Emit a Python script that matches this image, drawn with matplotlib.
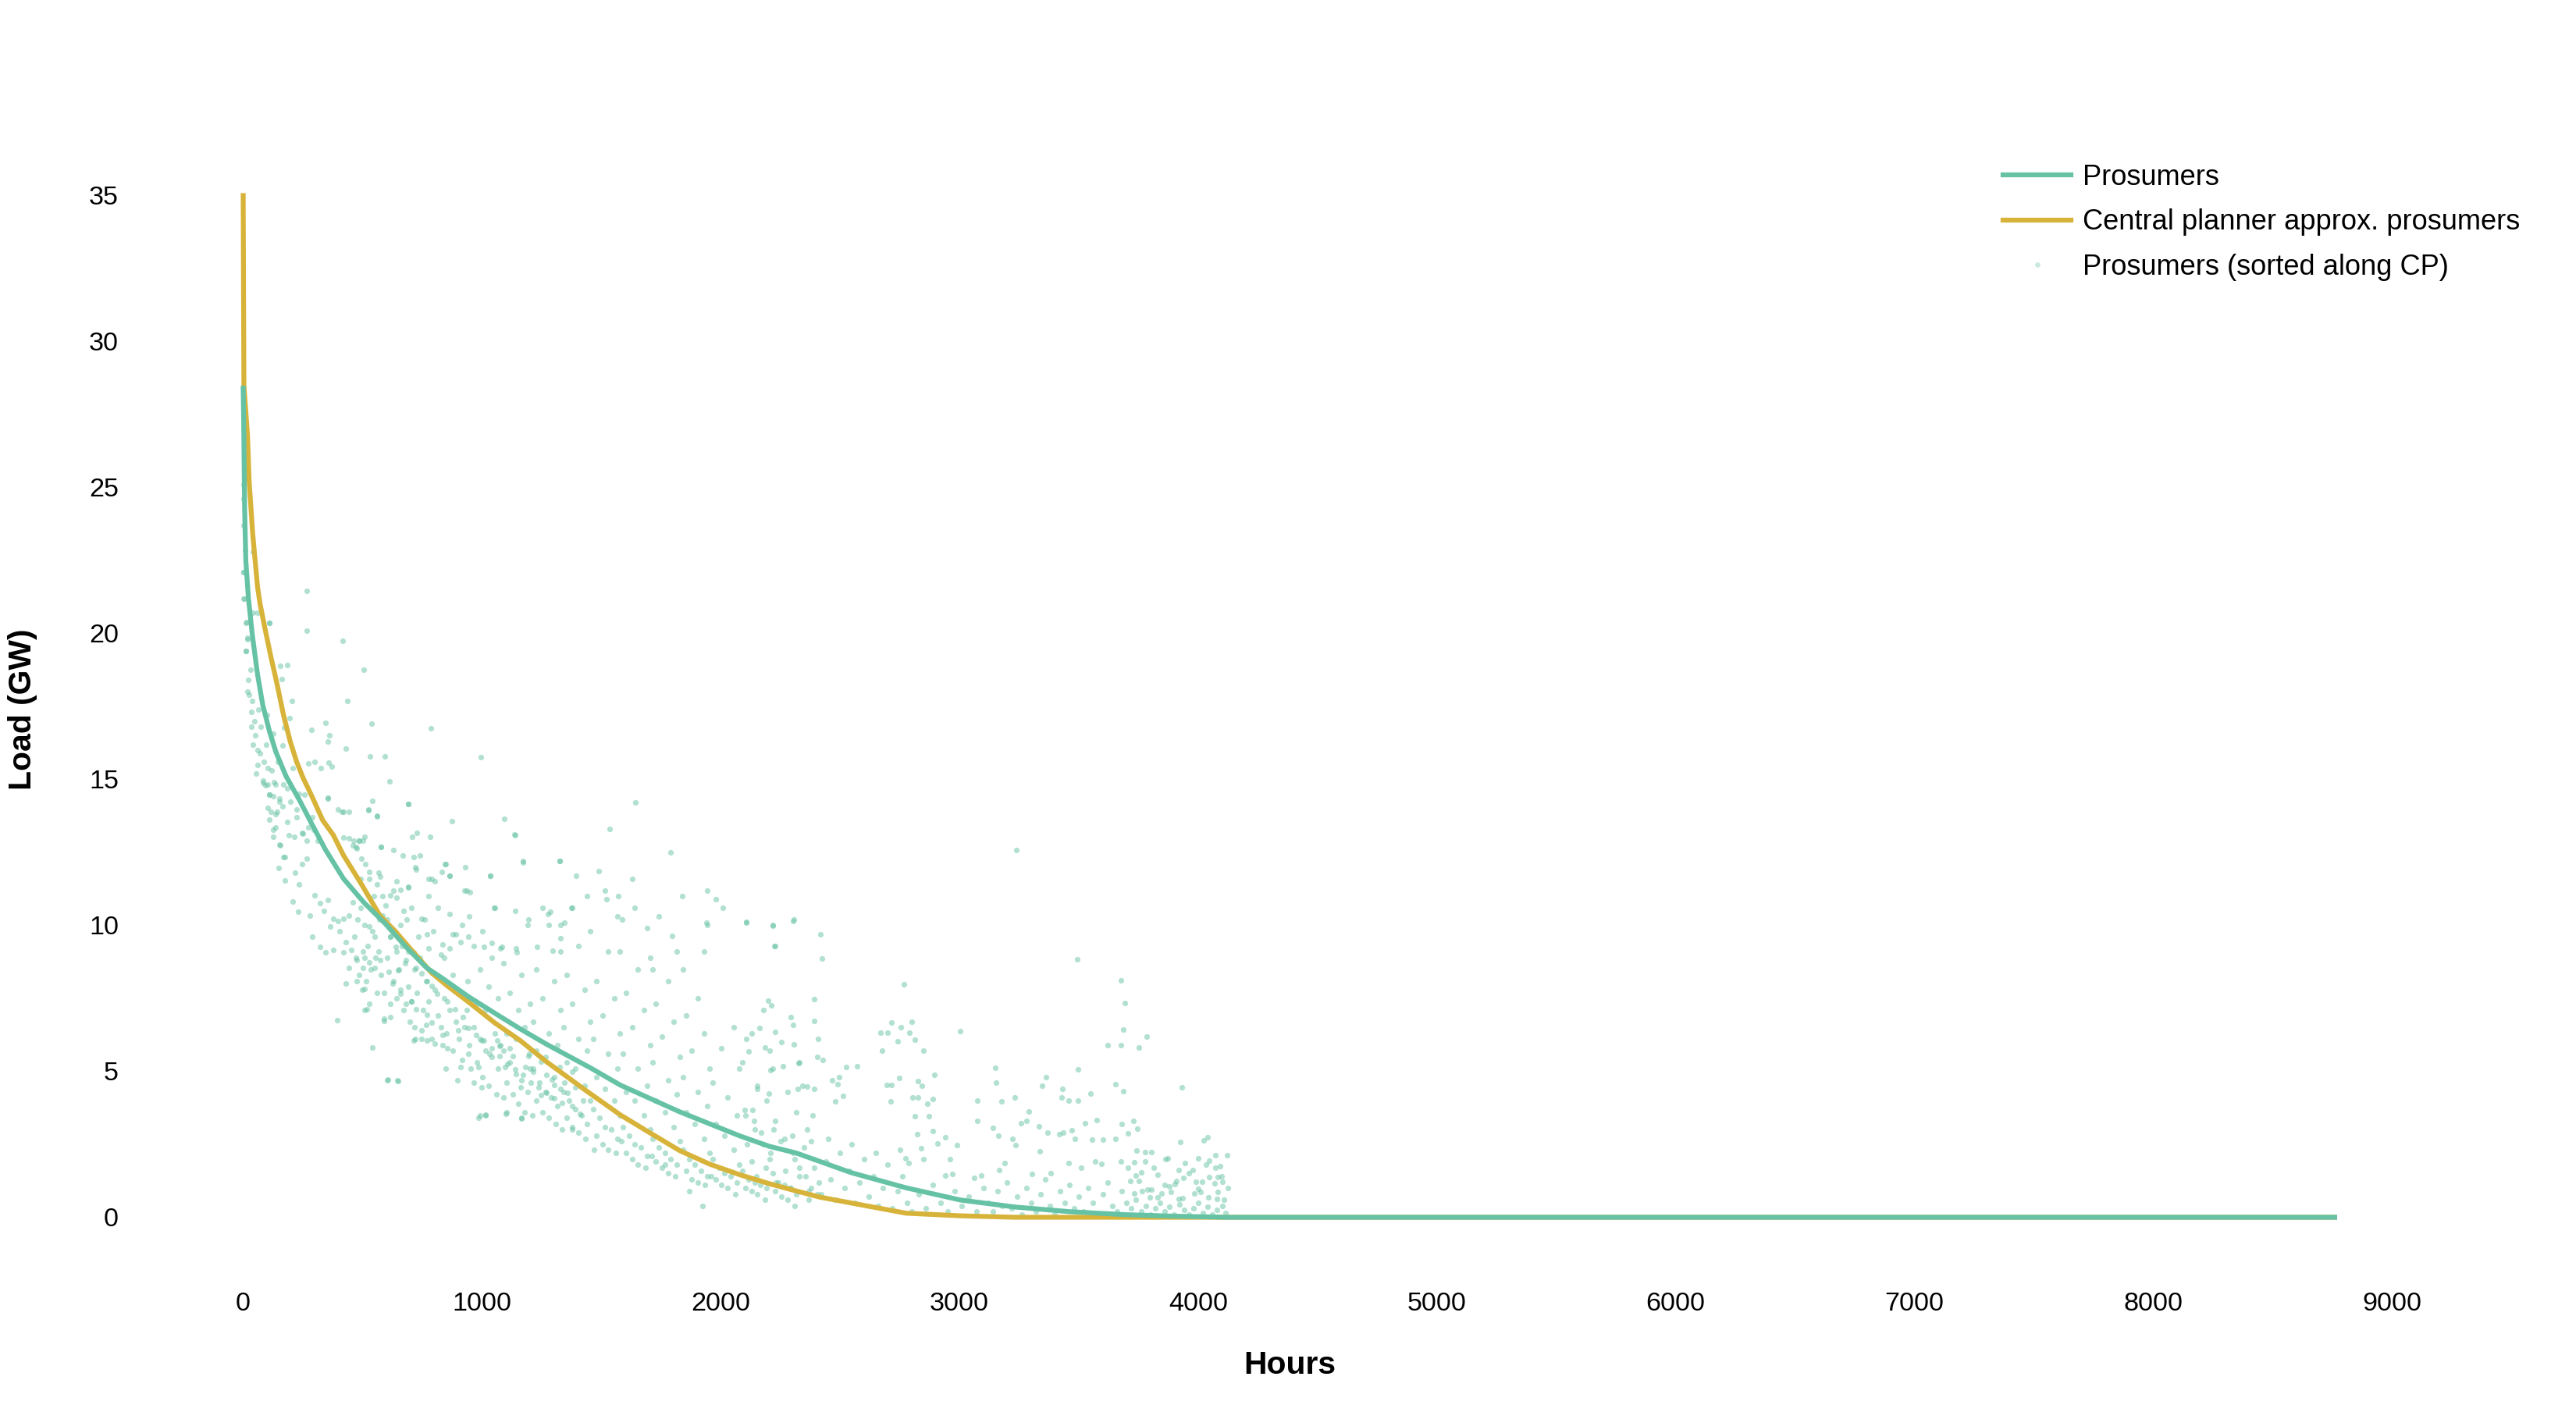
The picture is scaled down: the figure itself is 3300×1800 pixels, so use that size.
import matplotlib.pyplot as plt
from matplotlib.lines import Line2D

##------------------------------------ data ------------------------------------

# Prosumers load duration curve (hours, GW)
pro_hours = [0, 2, 6, 11, 22, 39, 60, 82, 110, 137, 180, 235, 289, 344, 420, 507, 595, 682, 769, 834,
             943, 1052, 1161, 1270, 1379, 1454, 1579, 1704, 1829, 1954, 2079, 2204, 2317, 2546, 2776,
             3005, 3234, 3464, 3693, 3886, 4120, 8760]
pro_load = [28.4, 27.4, 24.3, 22.5, 21.2, 19.9, 18.6, 17.55, 16.65, 15.94, 15.1, 14.3, 13.45, 12.6, 11.6,
            10.77, 10.06, 9.26, 8.54, 8.19, 7.56, 7.0, 6.45, 5.93, 5.45, 5.12, 4.53, 4.07, 3.61, 3.2, 2.79,
            2.43, 2.2, 1.53, 1.01, 0.59, 0.35, 0.19, 0.09, 0.04, 0.0, 0.0]

# central planner approximation
cp_hours = [0, 3, 18, 25, 40, 60, 71, 93, 115, 142, 169, 197, 224, 251, 289, 333, 377, 420, 496, 573,
            638, 703, 791, 856, 943, 1052, 1161, 1270, 1434, 1579, 1704, 1829, 1954, 2079, 2204, 2317,
            2415, 2546, 2776, 3005, 3234, 8760]
cp_load = [35.0, 28.5, 26.8, 25.2, 23.4, 21.6, 21.0, 20.1, 19.24, 18.26, 17.2, 16.3, 15.6, 15.05, 14.4,
           13.6, 13.1, 12.4, 11.4, 10.33, 9.79, 9.17, 8.36, 7.92, 7.38, 6.67, 6.05, 5.33, 4.35, 3.51, 2.89,
           2.28, 1.82, 1.46, 1.15, 0.9, 0.69, 0.49, 0.14, 0.05, 0.0, 0.0]

# prosumer points sorted along CP, (hour, GW), estimated from the cloud
scatter_early = [
    (0, 25.1), (3, 24.6), (0, 23.7), (8, 22.85), (0, 22.1), (3, 21.2), (13, 20.4), (18, 19.85), (10, 19.4),
    (40, 20.7), (62, 20.7), (108, 20.36), (40, 22.8), (3, 22.1), (6, 21.2), (11, 20.35), (17, 19.8),
    (11, 19.4), (30, 18.75), (22, 18.4), (17, 18.0), (39, 17.7), (33, 17.3), (47, 17.0), (50, 16.5),
    (71, 15.9), (55, 15.2), (82, 14.96), (93, 14.8), (110, 14.47), (115, 13.9), (137, 13.8), (126, 13.27),
    (156, 12.73), (175, 12.33), (191, 13.09), (224, 13.71), (246, 13.18), (267, 12.9), (289, 13.7),
    (153, 14.25), (104, 15.4), (126, 16.56), (164, 16.16), (208, 15.4), (257, 14.47), (186, 14.7),
    (25, 17.9), (40, 16.2), (60, 16.0), (65, 17.4), (75, 16.8), (85, 15.6), (95, 16.2), (100, 17.2),
    (120, 15.3), (130, 14.9), (145, 15.6), (60, 15.5), (35, 16.8),
    (267, 21.45), (266, 20.1), (418, 19.75), (436, 17.7), (344, 16.95), (287, 16.7), (362, 16.5),
    (355, 16.3), (429, 16.06), (371, 15.43), (357, 15.57), (325, 15.4), (300, 15.6), (273, 15.55),
    (186, 18.93), (156, 18.9), (111, 20.36), (162, 18.44), (204, 17.7), (195, 17.1), (173, 16.77),
    (355, 14.38), (413, 13.9), (442, 13.9), (442, 12.98), (459, 12.73),
    (82, 14.87), (104, 14.83), (137, 14.83), (169, 14.83), (109, 14.47), (126, 14.43), (153, 14.34),
    (104, 14.02), (142, 13.89), (164, 14.07), (197, 14.25), (224, 13.98), (235, 14.51), (109, 13.62),
    (137, 13.36), (126, 13.04), (153, 12.78), (186, 13.53), (213, 13.04), (251, 13.13), (273, 13.36),
    (295, 13.27), (311, 12.91), (169, 12.33), (148, 11.97), (175, 11.53), (218, 11.8), (246, 12.11),
    (268, 12.29), (235, 11.4), (208, 10.82), (229, 10.46), (278, 10.33), (289, 9.6), (322, 9.26),
    (344, 9.08), (377, 9.17), (300, 11.04), (322, 10.77), (355, 10.86), (338, 10.5), (377, 10.24),
    (366, 9.97), (398, 10.15), (420, 10.24), (442, 10.33), (404, 9.79), (431, 9.43), (420, 9.08),
    (453, 9.17), (431, 8.01), (393, 6.76), (442, 8.54), (398, 13.98), (420, 13.89), (420, 13.0),
    (355, 14.34),
]

scatter_mid = [
    (504, 18.76), (539, 16.9), (787, 16.76), (530, 15.8), (593, 15.8), (996, 15.76), (612, 14.94),
    (691, 14.15), (541, 14.26), (524, 13.95), (562, 13.73), (876, 13.56), (1093, 13.66), (1137, 13.12),
    (709, 13.03), (728, 13.16), (784, 13.04), (629, 12.57), (577, 12.68), (667, 12.4), (713, 12.35),
    (485, 12.9), (507, 13.04), (1326, 12.2), (1395, 11.7), (1171, 12.2), (931, 12.0), (866, 11.7),
    (777, 11.6), (723, 11.9), (937, 11.2), (1036, 11.7), (1376, 10.6), (1344, 10.1), (1275, 10.4),
    (693, 14.16), (1172, 12.15), (1325, 12.21), (832, 11.84), (801, 11.5), (845, 12.11), (949, 11.13),
    (1052, 10.59), (1139, 10.5), (1194, 10.19), (1286, 10.46), (1379, 10.59), (1330, 9.57), (1232, 9.26),
    (1297, 9.12), (1145, 9.08), (1085, 9.26), (1009, 9.26), (1041, 9.39), (943, 9.61), (878, 9.7),
    (911, 9.43), (834, 9.35), (769, 9.7), (747, 10.24), (671, 10.5), (660, 11.22), (693, 11.31),
    (616, 11.04), (643, 10.95), (595, 10.68), (562, 11.4), (573, 11.66), (513, 12.11), (529, 11.84),
    (496, 12.29), (475, 12.64), (464, 12.91), (486, 12.91), (524, 13.98), (562, 13.76),
    (475, 8.81), (507, 8.9), (502, 8.54), (529, 8.72), (551, 8.54), (573, 8.81), (475, 8.1), (507, 7.83),
    (518, 7.12), (589, 6.72), (616, 6.85), (529, 9.97), (551, 9.61), (584, 10.33), (616, 9.61),
    (638, 9.26), (671, 9.43), (682, 8.81), (714, 9.08), (725, 8.54), (747, 8.36), (769, 8.1), (791, 7.92),
    (812, 7.65), (649, 8.45), (627, 8.01), (660, 7.65), (703, 7.38), (682, 7.3), (725, 7.12), (769, 6.94),
    (791, 6.67), (747, 6.4), (714, 6.05), (769, 6.05), (802, 5.96), (834, 6.23), (856, 7.38), (889, 7.12),
    (921, 6.85), (943, 6.49), (976, 6.23), (1009, 6.05), (1041, 5.78), (1074, 5.51), (1107, 5.25),
    (1139, 5.07), (1172, 4.89), (1205, 4.62), (1237, 4.44), (1270, 4.27), (1303, 4.09), (1336, 3.91),
    (1379, 3.82), (1412, 3.55), (900, 6.4), (943, 5.6), (987, 5.16), (856, 5.78), (911, 5.16), (998, 4.44),
    (1096, 5.16), (1161, 4.44), (1248, 4.18), (1292, 4.71), (1357, 4.27), (1063, 6.05), (1118, 5.78),
    (1194, 5.51), (1248, 5.33), (1325, 5.16), (1379, 4.98), (540, 5.82), (605, 4.71), (649, 4.67),
    (987, 3.42), (1014, 3.51), (1101, 3.55), (1166, 3.37), (998, 6.05), (1030, 5.6), (1074, 5.87),
    (1129, 5.51), (1183, 5.16), (1216, 4.98), (1270, 4.89), (1303, 4.53), (1346, 4.62), (1390, 4.44),
    (1423, 4.0),
    (459, 10.8), (478, 10.2), (466, 9.6), (491, 10.6), (509, 10.0), (503, 9.1), (472, 8.9), (522, 9.3),
    (541, 9.8), (553, 8.9), (484, 8.3), (516, 8.1), (497, 7.8), (534, 8.5), (566, 9.1), (578, 8.3),
    (559, 7.7), (528, 7.3), (509, 7.1), (591, 7.7), (572, 10.2), (547, 11.0), (528, 11.6), (491, 11.6),
    (566, 11.8), (584, 11.0), (503, 12.9), (472, 12.7), (578, 12.7), (603, 10.2),
    (616, 9.6), (641, 9.1), (603, 8.9), (666, 9.3), (653, 8.5), (628, 8.1), (678, 8.7), (691, 7.9),
    (641, 7.5), (616, 7.3), (672, 7.1), (591, 6.8), (697, 6.7), (703, 7.4), (659, 10.0), (684, 10.2),
    (628, 11.2), (691, 11.3), (641, 11.5), (703, 10.6), (603, 4.7), (647, 4.7), (659, 7.8), (609, 8.4),
    (691, 9.1),
    (716, 8.5), (741, 8.9), (766, 8.1), (728, 7.7), (778, 7.4), (753, 7.1), (803, 7.8), (816, 6.9),
    (716, 6.5), (747, 6.1), (791, 6.1), (828, 6.5), (722, 6.1), (766, 6.6), (810, 8.3), (828, 9.0),
    (778, 9.2), (734, 9.6), (797, 9.8), (759, 10.2), (778, 11.0), (722, 12.0), (741, 12.4), (816, 10.6),
    (791, 11.6),
    (841, 7.5), (866, 7.1), (891, 6.7), (853, 6.3), (903, 6.1), (928, 6.5), (947, 5.9), (878, 5.7),
    (835, 5.9), (916, 5.4), (953, 5.1), (847, 5.1), (897, 4.7), (935, 7.1), (903, 7.7), (878, 8.3),
    (941, 8.1), (841, 8.9), (866, 9.2), (916, 10.0), (891, 9.7), (947, 10.3), (866, 10.4), (928, 11.2),
    (847, 12.1), (866, 11.7),
    (966, 6.5), (991, 6.1), (1016, 5.7), (978, 5.3), (1041, 5.5), (1066, 5.1), (1003, 4.8), (1028, 4.5),
    (1060, 4.2), (966, 4.6), (1078, 5.9), (1053, 6.3), (1016, 7.1), (978, 7.3), (1066, 7.5), (1028, 7.9),
    (991, 8.5), (1041, 8.9), (1078, 9.2), (1003, 9.8), (966, 9.3), (1053, 10.6), (991, 3.5), (1016, 3.5),
    (1035, 11.7),
    (1091, 5.7), (1116, 5.3), (1141, 4.9), (1103, 4.6), (1166, 4.7), (1191, 4.3), (1128, 4.2), (1153, 3.9),
    (1178, 3.6), (1091, 4.1), (1203, 5.1), (1197, 5.6), (1141, 6.1), (1103, 6.3), (1178, 6.5), (1153, 7.1),
    (1116, 7.7), (1203, 7.3), (1166, 8.3), (1091, 8.7), (1141, 9.2), (1191, 10.0), (1103, 3.6), (1166, 3.4),
    (1139, 13.1),
    (1216, 5.1), (1241, 4.6), (1266, 4.3), (1229, 4.0), (1291, 4.1), (1316, 3.8), (1254, 3.6), (1279, 3.4),
    (1310, 3.2), (1210, 3.5), (1328, 4.4), (1304, 4.8), (1266, 5.5), (1229, 5.7), (1316, 5.9), (1279, 6.3),
    (1216, 6.7), (1328, 7.1), (1254, 7.5), (1304, 8.1), (1229, 8.5), (1328, 9.1), (1279, 10.0), (1254, 10.6),
    (1341, 4.3), (1366, 4.0), (1391, 3.7), (1354, 3.4), (1416, 3.5), (1441, 3.2), (1379, 3.1), (1404, 2.9),
    (1435, 2.7), (1335, 3.0), (1454, 4.0), (1429, 4.5), (1391, 5.1), (1354, 5.3), (1441, 5.7), (1404, 6.1),
    (1341, 6.5), (1454, 6.7), (1379, 7.3), (1429, 7.8), (1354, 8.3), (1404, 9.3), (1328, 10.0), (1441, 11.0),
    (1379, 3.0),
]

scatter_late = [
    (1642, 14.2), (1536, 13.3), (1789, 12.5), (1490, 11.85), (1629, 11.6), (1838, 11.0), (1945, 11.2),
    (1978, 10.9), (2009, 10.6), (2106, 10.1), (2217, 10.0), (2305, 10.2), (2226, 9.3), (1929, 9.1),
    (1939, 10.1), (1795, 9.65), (1742, 10.3), (1588, 10.2), (1523, 10.9), (1570, 11.0),
    (1466, 3.7), (1491, 3.4), (1516, 3.1), (1479, 2.8), (1541, 3.0), (1566, 2.7), (1504, 2.5), (1529, 2.3),
    (1560, 2.2), (1469, 2.3), (1579, 3.5), (1554, 4.0), (1516, 4.4), (1479, 4.8), (1566, 5.1), (1529, 5.6),
    (1466, 6.1), (1579, 6.3), (1504, 6.9), (1554, 7.5), (1479, 8.1), (1529, 9.1), (1454, 9.8), (1566, 10.3),
    (1516, 11.2),
    (1591, 3.1), (1616, 2.8), (1641, 2.5), (1604, 2.2), (1666, 2.4), (1691, 2.1), (1629, 2.0), (1654, 1.8),
    (1685, 1.7), (1585, 2.6), (1704, 3.0), (1679, 3.5), (1641, 4.0), (1604, 4.3), (1691, 4.5), (1654, 5.1),
    (1591, 5.6), (1704, 5.9), (1629, 6.5), (1679, 7.1), (1604, 7.7), (1654, 8.5), (1579, 9.1), (1691, 9.9),
    (1641, 10.6), (1704, 8.9),
    (1716, 2.7), (1741, 2.4), (1766, 2.2), (1729, 1.9), (1791, 2.0), (1816, 1.8), (1754, 1.7), (1779, 1.5),
    (1810, 1.4), (1710, 2.1), (1829, 2.6), (1804, 3.1), (1766, 3.6), (1729, 4.0), (1816, 4.2), (1779, 4.7),
    (1716, 5.3), (1829, 5.5), (1754, 6.2), (1804, 6.7), (1729, 7.3), (1779, 8.1), (1716, 8.5), (1816, 9.1),
    (1766, 1.8),
    (1842, 2.3), (1867, 2.0), (1892, 1.8), (1854, 1.6), (1917, 1.6), (1942, 1.4), (1879, 1.3), (1904, 1.2),
    (1935, 1.1), (1867, 0.9), (1923, 0.4), (1954, 2.2), (1929, 2.7), (1892, 3.2), (1854, 3.6), (1942, 3.8),
    (1904, 4.3), (1842, 4.8), (1954, 5.1), (1879, 5.7), (1929, 6.3), (1854, 6.9), (1904, 7.5), (1942, 10.0),
    (1842, 8.5),
    (1967, 2.0), (1992, 1.7), (2017, 1.5), (1979, 1.3), (2042, 1.4), (2067, 1.2), (2004, 1.1), (2029, 1.0),
    (2061, 0.8), (1960, 1.4), (2079, 1.8), (2054, 2.3), (2017, 2.8), (1979, 3.2), (2067, 3.5), (2029, 4.1),
    (1967, 4.6), (2079, 5.1), (2004, 5.8), (2054, 6.5), (2092, 1.6), (2117, 1.3), (2142, 1.2), (2104, 1.0),
    (2167, 1.1), (2192, 1.0), (2129, 0.9), (2154, 0.8), (2186, 0.6), (2204, 2.0), (2179, 2.5), (2142, 3.0),
    (2104, 3.5), (2192, 4.0), (2154, 4.5), (2092, 5.3), (2204, 5.7), (2129, 6.3), (2179, 7.1), (2217, 1.5),
    (2242, 1.2), (2267, 1.1), (2229, 0.9), (2292, 1.0), (2317, 0.8), (2254, 0.7), (2279, 0.6), (2311, 0.4),
    (2329, 1.7), (2304, 2.2), (2267, 2.7), (2229, 3.3), (2317, 3.6), (2279, 4.3), (2217, 5.1), (2329, 5.3),
    (2254, 6.0), (2304, 6.6), (2355, 1.4), (2380, 1.0), (2405, 0.8), (2367, 0.6), (2392, 2.0), (2361, 3.0),
    (2386, 3.5), (2342, 4.5), (2405, 5.5),
]

scatter_tail = [
    (3238, 12.59), (2108, 10.12), (2217, 9.98), (2303, 10.15), (2228, 9.28), (2418, 9.68), (2424, 8.86),
    (3494, 8.83), (3677, 8.12), (3693, 7.33), (2768, 7.97), (2199, 7.42), (2211, 7.25), (2392, 7.46),
    (2390, 6.73), (2294, 6.86), (3685, 6.42), (3783, 6.19), (3620, 5.89), (3675, 5.89), (3750, 5.81),
    (3004, 6.37), (2716, 6.68), (2799, 6.71), (2755, 6.5), (2669, 6.31), (2698, 6.31), (2792, 6.31),
    (2814, 6.09), (2741, 6.02), (2675, 5.7), (2849, 5.72), (2164, 6.48), (2228, 6.35), (2409, 6.12),
    (2108, 6.12), (2116, 5.67), (2185, 5.81), (2305, 5.91), (2426, 5.39), (2325, 5.29), (2210, 5.03),
    (2260, 5.18), (2527, 5.16), (2570, 5.18), (2896, 4.87), (3150, 5.12), (3496, 5.06), (3361, 4.8),
    (3153, 4.62), (3652, 4.55), (3685, 4.32), (3347, 4.5), (2747, 4.78), (2825, 4.67), (2695, 4.53),
    (2716, 4.53), (2844, 4.51), (2466, 4.69), (2495, 4.81), (2489, 4.55), (2363, 4.48), (2391, 4.39),
    (2323, 4.4), (2154, 4.4), (2202, 4.25), (3432, 4.4), (3550, 4.23), (3074, 4.0), (3175, 3.98),
    (3232, 4.1), (3498, 4.01), (3428, 4.11), (3456, 4.01), (2713, 3.96), (2804, 4.1), (2825, 4.1),
    (2887, 4.04), (2867, 3.89), (2480, 3.96), (2514, 4.17), (2099, 3.68), (2133, 3.68), (3074, 3.31),
    (3257, 3.21), (3280, 3.31), (3292, 3.61), (3334, 3.12), (3370, 2.9), (3418, 2.86), (3435, 2.89),
    (3469, 2.98), (3527, 3.21), (3576, 3.34), (3679, 3.19), (3728, 3.31), (3745, 3.03), (3705, 2.88),
    (3653, 2.7), (3484, 2.68), (3555, 2.65), (3601, 2.65), (3139, 3.07), (3162, 2.79), (3223, 2.7),
    (3234, 2.46), (3338, 2.27), (2942, 2.73), (2989, 2.46), (2908, 2.53), (2812, 3.47), (2873, 3.47),
    (2890, 2.95), (2822, 2.84), (2839, 2.37), (2773, 2.01), (2787, 1.85), (2848, 1.99), (2959, 1.99),
    (2942, 1.43), (2971, 1.48), (3062, 1.34), (3091, 1.43), (3188, 1.85), (3166, 1.62), (3303, 1.48),
    (3383, 1.52), (3458, 1.85), (3510, 1.71), (3567, 1.9), (3596, 1.83), (3779, 2.23), (3805, 2.23),
    (3863, 1.99), (3676, 1.9), (3705, 1.71), (3739, 1.43), (3716, 1.24),
    (3933, 4.46), (3924, 2.57), (4022, 2.63), (4038, 2.74), (4120, 2.12), (4071, 2.13), (4000, 2.02),
    (3873, 2.01), (3944, 1.85), (3742, 2.28), (3733, 1.88), (3777, 1.92), (3815, 1.71), (3829, 1.46),
    (3762, 1.53), (3750, 1.24), (3918, 1.63), (3960, 1.51), (3976, 1.61), (4093, 1.75), (4073, 1.71),
    (4034, 1.81), (4047, 1.93), (3937, 1.36), (3910, 1.24), (3989, 1.22), (4016, 1.22), (4047, 1.38),
    (4082, 1.39), (4098, 1.41), (4069, 1.15), (4100, 1.21), (4123, 1.0), (3859, 1.11), (3880, 1.06),
    (3902, 1.13), (3788, 0.94), (3804, 0.94), (3764, 0.9), (3731, 0.81), (4000, 0.98), (4011, 0.87),
    (4082, 0.87), (4077, 0.63), (4109, 0.59), (4041, 0.68), (3886, 0.87), (3848, 0.81), (3831, 0.68),
    (3918, 0.63), (3935, 0.65), (3984, 0.82), (3799, 0.68),
    (2110, 2.5), (2130, 1.9), (2150, 1.4), (2170, 2.9), (2190, 1.7), (2210, 2.2), (2230, 1.2), (2250, 2.6),
    (2270, 1.6), (2290, 1.0), (2310, 2.0), (2330, 1.4), (2350, 2.4), (2370, 0.9), (2390, 1.7), (2410, 1.2),
    (2140, 3.3), (2220, 3.0), (2300, 2.8), (2380, 2.6),
    (2420, 0.8), (2440, 1.9), (2460, 1.3), (2480, 0.6), (2500, 2.2), (2520, 1.0), (2540, 1.6), (2560, 0.5),
    (2580, 1.2), (2600, 2.0), (2620, 0.7), (2640, 1.4), (2660, 0.4), (2680, 1.0), (2700, 1.8), (2720, 0.3),
    (2740, 0.9), (2760, 1.4), (2780, 0.5), (2800, 0.2), (2450, 2.7), (2550, 2.5), (2650, 2.2), (2750, 2.3),
    (2830, 0.8), (2860, 0.3), (2890, 1.1), (2920, 0.5), (2950, 0.2), (2980, 0.9), (3010, 0.4), (3040, 0.7),
    (3070, 0.2), (3100, 1.0),
    (3120, 0.5), (3140, 0.2), (3160, 0.9), (3180, 0.4), (3200, 1.2), (3220, 0.3), (3240, 0.7), (3260, 0.1),
    (3280, 1.0), (3300, 0.5), (3320, 0.2), (3340, 0.8), (3360, 1.3), (3380, 0.4), (3400, 0.1), (3420, 0.9),
    (3440, 0.5), (3460, 1.1), (3480, 0.3), (3500, 0.7), (3520, 0.2), (3540, 1.0), (3560, 0.5), (3580, 0.1),
    (3600, 0.8), (3620, 1.2), (3640, 0.4), (3660, 0.2), (3680, 0.9), (3700, 0.5), (3720, 0.3), (3740, 0.6),
    (3760, 0.2), (3780, 0.4), (3800, 0.1), (3820, 0.3), (3840, 0.5), (3860, 0.2), (3880, 0.35), (3900, 0.1),
    (3920, 0.45), (3940, 0.25), (3960, 0.1), (3980, 0.3), (4000, 0.5), (4020, 0.15), (4040, 0.35),
    (4060, 0.1), (4080, 0.25), (4100, 0.4), (4115, 0.15),
]

x_ticks = [0, 1000, 2000, 3000, 4000, 5000, 6000, 7000, 8000, 9000]
y_ticks = [0, 5, 10, 15, 20, 25, 30, 35]

##------------------------------------ styling ------------------------------------
green = '#66c2a5'
gold = '#d8b33a'
plt.rcParams['font.family'] = ['Liberation Sans', 'DejaVu Sans']

fig = plt.figure(figsize=(11, 6), dpi=300)
ax = fig.add_axes([0.04806, 0.09206, 0.92685, 0.83111])

points = scatter_early + scatter_mid + scatter_late + scatter_tail
sc_h = [p[0] for p in points]
sc_v = [p[1] for p in points]

ax.scatter(sc_h, sc_v, s=3.0, color=green, alpha=0.5, linewidths=0, zorder=1)
ax.plot(cp_hours, cp_load, color=gold, lw=1.5, zorder=2, solid_joinstyle='round')
ax.plot(pro_hours, pro_load, color=green, lw=1.5, zorder=3, solid_joinstyle='round')

ax.set_xlim(-500, 9500)
ax.set_ylim(-2, 38)
ax.set_xticks(x_ticks)
ax.set_yticks(y_ticks)
for s in ax.spines.values():
    s.set_visible(False)
ax.tick_params(length=0, labelsize=8.2)
ax.tick_params(axis='x', pad=4.9)
ax.tick_params(axis='y', pad=1.6)

fig.text(1652 / 3300, 1 - 1749 / 1800, 'Hours', ha='center', va='center', fontsize=9.8, fontweight='bold')
fig.text(29 / 3300, 1 - 909 / 1800, 'Load (GW)', ha='center', va='center', rotation=90,
         fontsize=9.8, fontweight='bold')

handles = [
    Line2D([], [], color=green, lw=1.5),
    Line2D([], [], color=gold, lw=1.5),
    Line2D([], [], color=green, marker='o', markersize=1.6, alpha=0.35, linestyle='none', markeredgewidth=0),
]
labels = ['Prosumers', 'Central planner approx. prosumers', 'Prosumers (sorted along CP)']
fig.legend(handles, labels, loc='upper left', bbox_to_anchor=(2566 / 3300, 1 - 210 / 1800),
           frameon=False, fontsize=8.7, handlelength=2.4, handletextpad=0.42, labelspacing=0.62,
           borderpad=0, borderaxespad=0)

fig.savefig('out.png', dpi=300)
